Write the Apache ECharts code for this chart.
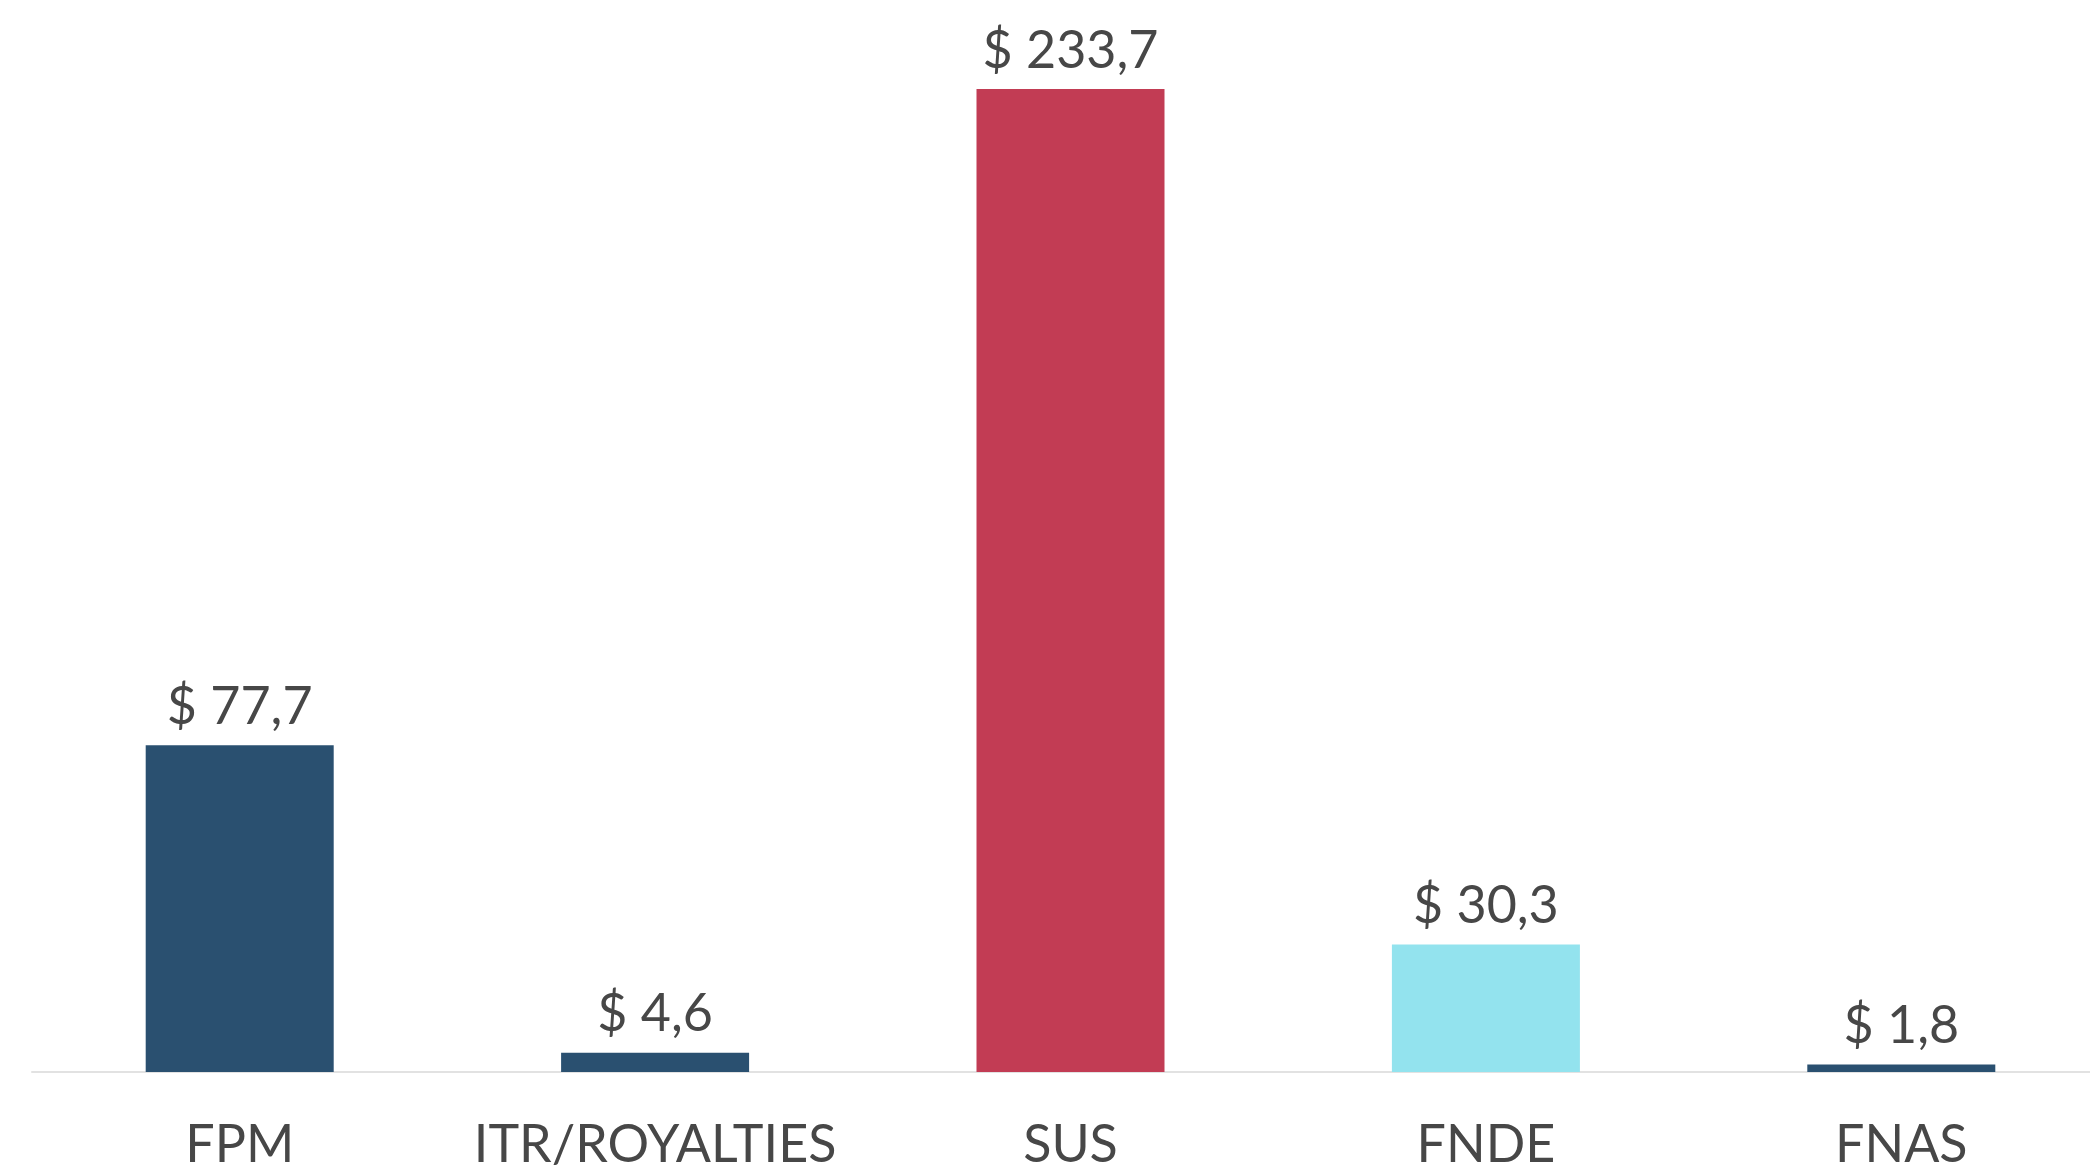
<!DOCTYPE html>
<html>
<head>
<meta charset="utf-8">
<script src="https://cdn.jsdelivr.net/npm/echarts@6/dist/echarts.min.js"></script>
<style>
  html, body { margin: 0; padding: 0; background: #ffffff; }
  #chart { width: 2090px; height: 1169px; }
</style>
</head>
<body>
<div id="chart"></div>
<script>
const categories = ['FPM', 'ITR/ROYALTIES', 'SUS', 'FNDE', 'FNAS'];
const values = [77.7, 4.6, 233.7, 30.3, 1.8];
const barColors = ['#2a5070', '#2a5070', '#c23c54', '#93e3ee', '#2a5070'];

const chart = echarts.init(document.getElementById('chart'));

chart.setOption({
  animation: false,
  grid: {
    left: 32,
    width: 2077,
    top: 20.5,
    height: 1051.5,
    containLabel: false,
    outerBoundsMode: 'none',
  },
  xAxis: {
    type: 'category',
    data: categories,
    axisLine: { show: true, lineStyle: { color: '#e2e2e2', width: 2 } },
    axisTick: { show: false },
    axisLabel: {
      color: '#474747',
      fontFamily: 'Lato',
      fontSize: 52,
      margin: 47,
      interval: 0,
    },
  },
  yAxis: {
    type: 'value',
    min: 0,
    max: 250,
    show: false,
    splitLine: { show: false },
  },
  series: [
    {
      type: 'bar',
      barWidth: 188,
      data: values.map((v, i) => ({ value: v, itemStyle: { color: barColors[i] } })),
      label: {
        show: true,
        position: 'top',
        distance: 12,
        color: '#474747',
        fontFamily: 'Lato',
        fontSize: 52,
        formatter: p => '$ ' + p.value.toFixed(1).replace('.', ','),
      },
    },
  ],
});
</script>
</body>
</html>
